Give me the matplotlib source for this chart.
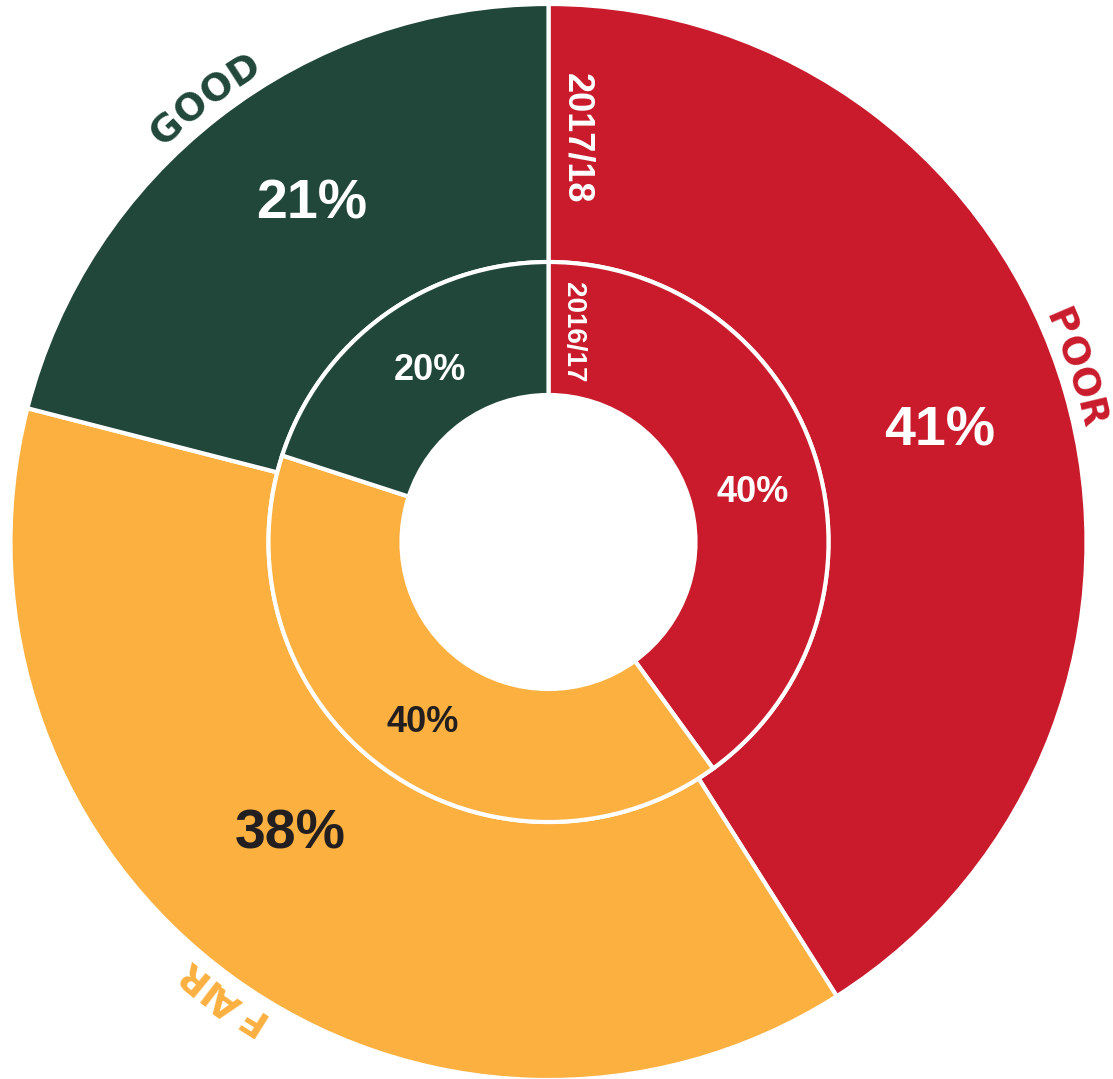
import numpy as np
import matplotlib
matplotlib.use('Agg')
import matplotlib.pyplot as plt
from matplotlib.textpath import TextPath
from matplotlib.font_manager import FontProperties

# Condition shares, clockwise from 12 o'clock
categories = ['POOR', 'FAIR', 'GOOD']
outer_vals = [41, 38, 21]   # 2017/18
inner_vals = [40, 40, 20]   # 2016/17
years = ['2017/18', '2016/17']

colors = ['#C91B2C', '#FBB040', '#21473B']
pct_colors = ['white', '#231F20', 'white']

DPI = 100
W, H = 1113, 1079
CX, CY = 548.5, 542          # centre, pixels from left / top
R_OUT, R_MID, R_IN = 538, 280, 147

# percentage label placement (polar: angle deg, radius px)
outer_lbl_pos = [(15.8, 407), (228.5, 390), (125.0, 412)]
inner_lbl_pos = [(13.5, 210), (235.0, 220), (124.6, 208)]
# where each curved category name sits (radius px)
cat_radius = [555, 561, 561]

fig = plt.figure(figsize=(W / DPI, H / DPI), dpi=DPI)
ax = fig.add_axes([0, 0, 1, 1])

# outer ring (2017/18)
ax.pie(outer_vals, radius=R_OUT, startangle=90, counterclock=False, colors=colors,
       wedgeprops=dict(width=R_OUT - R_MID, edgecolor='white', linewidth=3))
# inner ring (2016/17)
ax.pie(inner_vals, radius=R_MID, startangle=90, counterclock=False, colors=colors,
       wedgeprops=dict(width=R_MID - R_IN, edgecolor='white', linewidth=3))

ax.set_xlim(-CX, W - CX)
ax.set_ylim(-(H - CY), CY)
ax.set_aspect('equal')
ax.axis('off')


def mid_angles(vals):
    # slice mid-angles in degrees (CCW from +x) for a clockwise pie starting at 90
    tot = float(sum(vals))
    edges = 90 - 360 * np.cumsum([0] + list(vals)) / tot
    return (edges[:-1] + edges[1:]) / 2


def curved_text(text, r, mid_deg, color, size, spacing=5):
    # letters laid clockwise along the arc, tops pointing outward
    fp = FontProperties(family='DejaVu Sans', weight='bold', size=size)
    size_px = size * DPI / 72
    widths = []
    for ch in text:
        tp = TextPath((0, 0), ch, size=size_px, prop=fp)
        widths.append(tp.get_extents().width)
    total = sum(widths) + spacing * (len(text) - 1)
    start = np.deg2rad(mid_deg) + (total / 2) / r
    pos = 0
    for ch, w in zip(text, widths):
        a = start - (pos + w / 2) / r
        ax.text(r * np.cos(a), r * np.sin(a), ch, color=color,
                fontproperties=fp, rotation=np.rad2deg(a) - 90,
                rotation_mode='anchor', ha='center', va='center')
        pos += w + spacing


outer_mid = mid_angles(outer_vals)

for cat, ang, col, rr in zip(categories, outer_mid, colors, cat_radius):
    curved_text(cat, rr, ang + (2 if cat == 'POOR' else 0), col, 27)

for v, (ang, r), col in zip(outer_vals, outer_lbl_pos, pct_colors):
    a = np.deg2rad(ang)
    ax.text(r * np.cos(a), r * np.sin(a), f'{v}%', color=col, fontsize=40,
            family='Liberation Sans', weight='bold', ha='center', va='center')

for v, (ang, r), col in zip(inner_vals, inner_lbl_pos, pct_colors):
    a = np.deg2rad(ang)
    ax.text(r * np.cos(a), r * np.sin(a), f'{v}%', color=col, fontsize=26,
            family='Liberation Sans', weight='bold', ha='center', va='center')

# year labels running down the 12 o'clock divider
ax.text(28, 404, years[0], color='white', fontsize=26, family='Liberation Sans',
        weight='bold', rotation=-90, ha='center', va='center')
ax.text(25, 210, years[1], color='white', fontsize=20, family='Liberation Sans',
        weight='bold', rotation=-90, ha='center', va='center')

plt.savefig('out.png', dpi=DPI)
